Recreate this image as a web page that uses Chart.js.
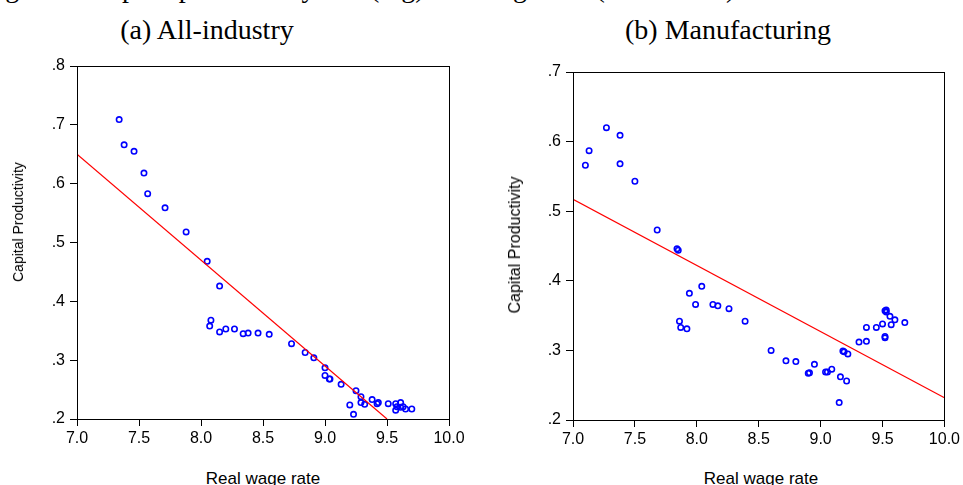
<!DOCTYPE html>
<html>
<head>
<meta charset="utf-8">
<script src="https://cdn.jsdelivr.net/npm/chart.js@4/dist/chart.umd.min.js"></script>
<style>
  body { margin: 0; background: #fff; width: 963px; height: 485px; overflow: hidden; position: relative;
         font-family: "Liberation Sans", Arial, sans-serif; color: #000; }
  .t  { position: absolute; font-family: "Liberation Serif", "Times New Roman", serif; font-size: 28px;
        line-height: 28px; white-space: nowrap; }
  .ax { position: absolute; white-space: nowrap; }
  canvas { position: absolute; }
</style>
</head>
<body>
<div class="t" style="left:-18px;top:-26px">Figure 3: Capital productivity and (log) real wage rate (1960-2005)</div>
<div class="t" style="left:207px;top:16px;transform:translateX(-50%)">(a) All-industry</div>
<div class="t" style="left:728px;top:16px;transform:translateX(-50%)">(b) Manufacturing</div>

<canvas id="chartA" width="470" height="400" style="left:0;top:50px"></canvas>
<canvas id="chartB" width="463" height="400" style="left:500px;top:50px"></canvas>

<div class="ax" style="left:18px;top:222px;font-size:14px;transform:translate(-50%,-50%) rotate(-90deg)">Capital Productivity</div>
<div class="ax" style="left:515px;top:245px;font-size:16px;transform:translate(-50%,-50%) rotate(-90deg)">Capital Productivity</div>
<div class="ax" style="left:263px;top:470px;font-size:17px;line-height:17px;transform:translateX(-50%)">Real wage rate</div>
<div class="ax" style="left:761px;top:470px;font-size:17px;line-height:17px;transform:translateX(-50%)">Real wage rate</div>

<script>
// ticks
const xTicks  = [7.0, 7.5, 8.0, 8.5, 9.0, 9.5, 10.0];
const yTicksA = [0.2, 0.3, 0.4, 0.5, 0.6, 0.7, 0.8];
const yTicksB = [0.2, 0.3, 0.4, 0.5, 0.6, 0.7];

// (a) all-industry: log real wage vs capital productivity
const wageA = [7.34, 7.38, 7.46, 7.54, 7.57, 7.71, 7.88, 8.05, 8.15, 8.08, 8.07, 8.15, 8.20, 8.27,
               8.34, 8.38, 8.46, 8.55, 8.73, 8.84, 8.91, 9.00, 9.00, 9.04, 9.035, 9.13, 9.25, 9.29,
               9.20, 9.23, 9.29, 9.32, 9.38, 9.42, 9.43, 9.51, 9.57, 9.58, 9.57, 9.61, 9.61, 9.63,
               9.65, 9.70];
const prodA = [0.709, 0.666, 0.655, 0.618, 0.583, 0.559, 0.518, 0.468, 0.426, 0.368, 0.358, 0.348,
               0.353, 0.353, 0.345, 0.346, 0.346, 0.344, 0.328, 0.313, 0.304, 0.287, 0.274, 0.268,
               0.268, 0.259, 0.248, 0.238, 0.224, 0.208, 0.228, 0.225, 0.233, 0.226, 0.228, 0.226,
               0.226, 0.221, 0.215, 0.228, 0.220, 0.221, 0.217, 0.217];
const fitXA = [7.0, 9.5];
const fitYA = [0.650, 0.200];

// (b) manufacturing
const wageB = [7.10, 7.13, 7.27, 7.38, 7.38, 7.50, 7.68, 7.84, 7.85, 7.86, 7.87, 7.92, 7.94, 7.99,
               8.04, 8.13, 8.17, 8.26, 8.39, 8.60, 8.72, 8.80, 8.90, 8.91, 8.95, 9.04, 9.055, 9.09,
               9.16, 9.21, 9.15, 9.18, 9.19, 9.22, 9.31, 9.37, 9.37, 9.45, 9.50, 9.52, 9.52, 9.52,
               9.53, 9.53, 9.56, 9.57, 9.60, 9.68];
const prodB = [0.566, 0.587, 0.620, 0.609, 0.568, 0.543, 0.473, 0.446, 0.444, 0.342, 0.333, 0.331,
               0.382, 0.366, 0.392, 0.366, 0.364, 0.360, 0.342, 0.300, 0.285, 0.284, 0.267, 0.268,
               0.280, 0.269, 0.269, 0.273, 0.262, 0.256, 0.225, 0.299, 0.298, 0.295, 0.312, 0.313,
               0.333, 0.333, 0.338, 0.318, 0.320, 0.357, 0.358, 0.355, 0.349, 0.337, 0.344, 0.340];
const fitXB = [7.0, 10.0];
const fitYB = [0.517, 0.232];

// box around the plot area
const frame = {
  id: 'frame',
  afterDraw(c) {
    const a = c.chartArea, ctx = c.ctx;
    ctx.save();
    ctx.strokeStyle = '#000';
    ctx.lineWidth = 1;
    ctx.strokeRect(Math.round(a.left) + 0.5, Math.round(a.top) + 0.5,
                   Math.round(a.right - a.left), Math.round(a.bottom - a.top));
    ctx.restore();
  }
};

function makeChart(id, wage, prod, fitX, fitY, yTicks, o) {
  const tickFont = { family: '"Liberation Sans", Arial, sans-serif', size: 16 };
  const grid = { drawOnChartArea: false, drawTicks: true, tickLength: 7, color: '#000' };
  return new Chart(document.getElementById(id), {
    type: 'scatter',
    data: {
      datasets: [
        {
          data: fitX.map((x, i) => ({ x, y: fitY[i] })),
          showLine: true,
          borderColor: '#ff0000',
          borderWidth: 1.2,
          pointRadius: 0,
        },
        {
          data: wage.map((x, i) => ({ x, y: prod[i] })),
          pointStyle: 'circle',
          pointRadius: 2.7,
          borderWidth: 1.6,
          borderColor: '#0000ff',
          backgroundColor: 'rgba(0,0,0,0)',
        },
      ],
    },
    options: {
      responsive: false,
      animation: false,
      events: [],
      layout: { padding: { top: o.top, right: o.right, left: 0, bottom: 0 } },
      plugins: { legend: { display: false }, tooltip: { enabled: false } },
      scales: {
        x: {
          type: 'linear',
          min: xTicks[0], max: xTicks[xTicks.length - 1],
          afterBuildTicks: s => { s.ticks = xTicks.map(v => ({ value: v })); },
          afterFit: s => { s.height = o.xh; },
          grid,
          border: { display: true, color: '#000' },
          ticks: { color: '#000', font: tickFont, padding: 3, maxRotation: 0,
                   callback: v => v.toFixed(1) },
        },
        y: {
          min: yTicks[0], max: yTicks[yTicks.length - 1],
          afterBuildTicks: s => { s.ticks = yTicks.map(v => ({ value: v })); },
          afterFit: s => { s.width = o.yw; },
          grid,
          border: { display: true, color: '#000' },
          ticks: { color: '#000', font: tickFont, padding: 5,
                   callback: v => v.toFixed(1).replace(/^0/, '') },
        },
      },
    },
    plugins: [frame],
  });
}

makeChart('chartA', wageA, prodA, fitXA, fitYA, yTicksA, { top: 16, right: 21, yw: 77, xh: 31 });
makeChart('chartB', wageB, prodB, fitXB, fitYB, yTicksB, { top: 22, right: 15, yw: 73, xh: 30 });
</script>
</body>
</html>
